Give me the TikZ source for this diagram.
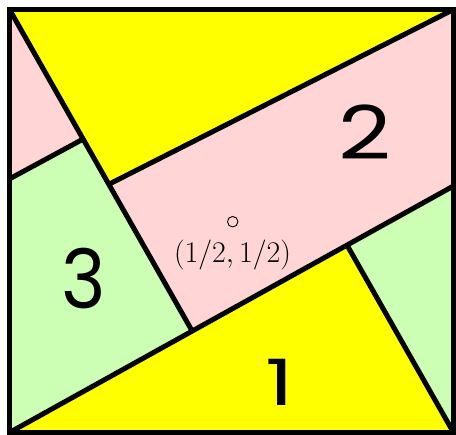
\documentclass[tikz,border=0pt]{standalone}
\usepackage{fix-cm}
\usepackage{fontspec}
\usepackage{graphicx}
\newfontfamily\digitfont{Poppins}
\definecolor{tyellow}{RGB}{255,255,0}
\definecolor{tpink}{RGB}{255,213,213}
\definecolor{tgreen}{RGB}{204,255,179}
\begin{document}
\begin{tikzpicture}[x=1pt,y=-1pt,
  edge/.style={line width=5pt},
  frame/.style={line width=5.3pt},
  digit/.style={inner sep=0pt, font=\digitfont\fontsize{64}{64}\selectfont},
  lbl/.style={inner sep=0pt, font=\fontsize{30}{33}\selectfont}]
\useasboundingbox (0,0) rectangle (456,435);
% corners
\coordinate (TL) at (9.5,9.5);
\coordinate (TR) at (453.5,9.5);
\coordinate (BR) at (453.5,432.5);
\coordinate (BL) at (9.5,432.5);
% inner points
\coordinate (P2) at (108.8,184.3);
\coordinate (Q)  at (83.1,139.1);
\coordinate (Lp) at (9.5,178.9);
\coordinate (P1) at (192.2,331.1);
\coordinate (P4) at (347.0,245.1);
\coordinate (R)  at (453.5,186.0);
% fills
\fill[tyellow] (TL) -- (TR) -- (P2) -- cycle;
\fill[tpink] (P2) -- (TR) -- (R) -- (P1) -- cycle;
\fill[tgreen] (P4) -- (R) -- (BR) -- cycle;
\fill[tyellow] (BL) -- (P4) -- (BR) -- cycle;
\fill[tgreen] (Lp) -- (Q) -- (P1) -- (BL) -- cycle;
\fill[tpink] (TL) -- (Q) -- (Lp) -- cycle;
% lines
\draw[edge] (TL) -- (P1);
\draw[edge] (TR) -- (P2);
\draw[edge] (BL) -- (R);
\draw[edge] (BR) -- (P4);
\draw[edge] (Lp) -- (Q);
\draw[frame] (TL) rectangle (BR);
% labels
\node[digit] (n2) at (364.5,132.5) {\scalebox{1.44}[1.16]{2}};
\node[digit] (n3) at (83.3,278.3) {\scalebox{1.18}[1.28]{3}};
\node[digit] (n1) at (280,382.5) {\scalebox{1.4}[1.0]{1}};
\node[draw, circle, line width=0.9pt, minimum size=10.5pt, inner sep=0pt] (c) at (232.7,221.7) {};
\node[lbl] (cl) at (232.5,255) {$(1/2,1/2)$};
\end{tikzpicture}
\end{document}
